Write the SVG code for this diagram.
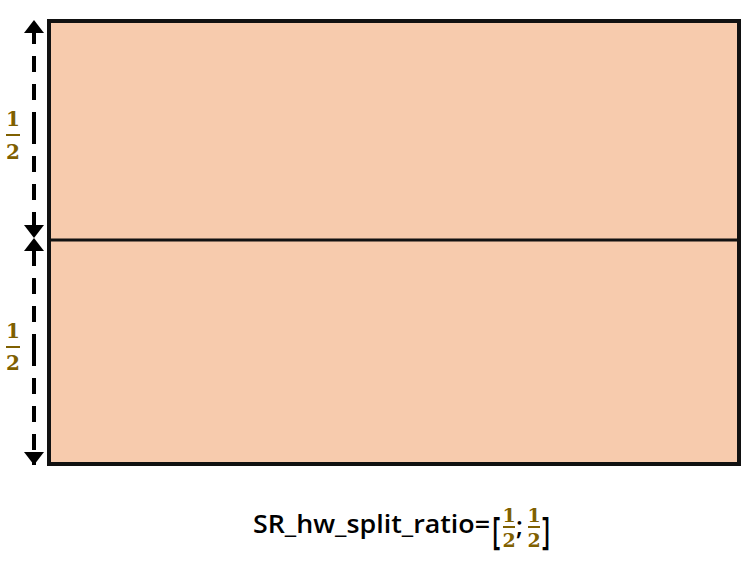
<svg xmlns="http://www.w3.org/2000/svg" width="753" height="567" viewBox="0 0 753 567">
<defs>
<style>
.frac{font-family:"DejaVu Serif","Liberation Serif",serif;font-weight:bold;fill:#7f6000;text-anchor:middle}
.bar{stroke:#7f6000;stroke-width:2}
.dash{stroke:#000;stroke-width:4;stroke-dasharray:16 12;fill:none}
.lbl{font-family:"Open Sans","Liberation Sans",sans-serif;font-weight:600;fill:#000}
</style>
<marker id="ah" viewBox="0 0 13 20" refX="13" refY="10" markerWidth="13" markerHeight="20" markerUnits="userSpaceOnUse" orient="auto">
<path d="M0,0 L13,10 L0,20 Z" fill="#000"/>
</marker>
</defs>
<g id="block">
<rect x="49" y="21" width="690" height="443" fill="#f7cbad" stroke="#111" stroke-width="4"/>
<line x1="49" y1="240" x2="739" y2="240" stroke="#111" stroke-width="3"/>
</g>
<g id="connectors">
<line class="dash" x1="34" y1="128" x2="34" y2="20" marker-end="url(#ah)"/>
<line class="dash" x1="34" y1="128" x2="34" y2="238" marker-end="url(#ah)"/>
<line class="dash" x1="34" y1="350" x2="34" y2="238" marker-end="url(#ah)"/>
<line class="dash" x1="34" y1="350" x2="34" y2="465" marker-end="url(#ah)"/>
</g>
<g id="frac-top">
<text class="frac" x="13" y="126" font-size="20">1</text>
<line class="bar" x1="6" y1="135" x2="20" y2="135"/>
<text class="frac" x="13" y="159" font-size="20">2</text>
</g>
<g id="frac-bottom">
<text class="frac" x="13" y="338" font-size="20">1</text>
<line class="bar" x1="6" y1="347" x2="20" y2="347"/>
<text class="frac" x="13" y="370" font-size="20">2</text>
</g>
<g id="label">
<text class="lbl" x="253" y="533" font-size="25" textLength="237" lengthAdjust="spacingAndGlyphs">SR_hw_split_ratio=</text>
<text class="lbl" x="0" y="0" font-size="25" transform="translate(492,544) scale(1,1.5)">[</text>
<text class="frac" x="509" y="522" font-size="19">1</text>
<line class="bar" x1="503" y1="527" x2="515" y2="527"/>
<text class="frac" x="509" y="547" font-size="19">2</text>
<text class="lbl" x="516" y="535" font-size="25">;</text>
<text class="frac" x="534" y="522" font-size="19">1</text>
<line class="bar" x1="528" y1="527" x2="540" y2="527"/>
<text class="frac" x="534" y="547" font-size="19">2</text>
<text class="lbl" x="0" y="0" font-size="25" transform="translate(542,544) scale(1,1.5)">]</text>
</g>
</svg>
